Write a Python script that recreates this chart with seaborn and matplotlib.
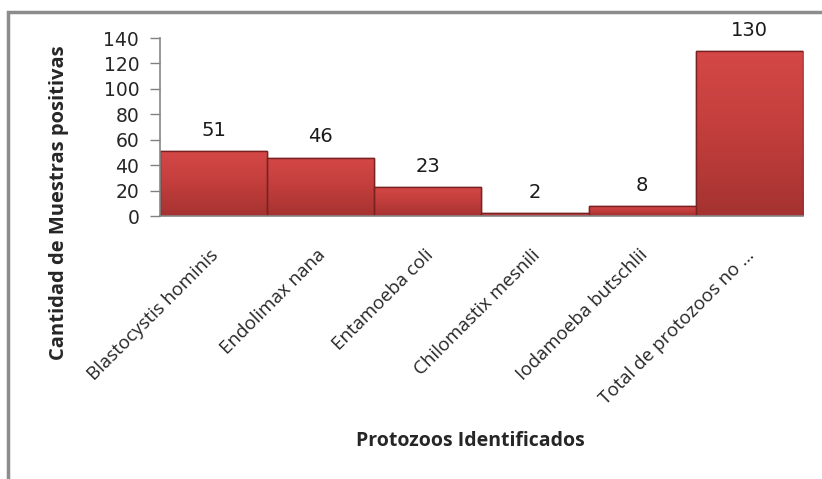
import matplotlib
matplotlib.use("Agg")
import matplotlib.pyplot as plt
import matplotlib.patches as mpatches
import matplotlib.transforms as mtransforms
from matplotlib.colors import LinearSegmentedColormap
import numpy as np
import pandas as pd
import seaborn as sns

categorias = ["Blastocystis hominis", "Endolimax nana", "Entamoeba coli",
              "Chilomastix mesnili", "Iodamoeba butschlii", "Total de protozoos no …"]
valores = [51, 46, 23, 2, 8, 130]
yticks = [0, 20, 40, 60, 80, 100, 120, 140]

df = pd.DataFrame({"Protozoo": categorias, "Cantidad": valores})

sns.set_theme(style="white")
plt.rcParams["font.family"] = ["Open Sans", "DejaVu Sans"]

fig = plt.figure(figsize=(8.22, 4.79), dpi=100)
ax = fig.add_axes([0.1946, 0.549, 0.7823, 0.3716])

sns.barplot(data=df, x="Protozoo", y="Cantidad", color="#C83E3D", width=1.0,
            edgecolor="#6E1C1C", linewidth=1.0, ax=ax, saturation=1)

# gradient shading on each bar
grad = np.linspace(0, 1, 100).reshape(-1, 1)
cmap = LinearSegmentedColormap.from_list("redgrad", ["#A53331", "#C23E3C", "#D44847"])
for p in ax.patches:
    x0, y0 = p.get_x(), p.get_y()
    w, h = p.get_width(), p.get_height()
    im = ax.imshow(grad, extent=[x0, x0 + w, y0, y0 + h], origin="lower",
                   cmap=cmap, aspect="auto", zorder=p.get_zorder() + 0.1)
    im.set_clip_path(p)
    edge = mpatches.Rectangle((x0, y0), w, h, fill=False, edgecolor="#7A2222",
                              linewidth=1.0, zorder=p.get_zorder() + 0.2)
    ax.add_patch(edge)

ax.set_xlim(-0.5, len(categorias) - 0.5)
ax.set_ylim(0, 140)
ax.set_yticks(yticks)
ax.set_yticklabels([str(t) for t in yticks], fontsize=13.5, family="DejaVu Sans")
ax.tick_params(axis="y", length=7, width=1, color="#808080", pad=8, left=True)
ax.tick_params(axis="x", length=0, pad=10)
ax.set_xticks(range(len(categorias)))
ax.set_xticklabels(categorias, rotation=45, ha="right", rotation_mode="anchor",
                   fontsize=13.5)
offset = mtransforms.ScaledTranslation(-4 / 100, -16 / 100, fig.dpi_scale_trans)
for lbl in ax.get_xticklabels():
    lbl.set_transform(lbl.get_transform() + offset)

for s in ["top", "right"]:
    ax.spines[s].set_visible(False)
for s in ["left", "bottom"]:
    ax.spines[s].set_color("#868686")
    ax.spines[s].set_linewidth(1.2)

ax.bar_label(ax.containers[0], labels=[str(v) for v in valores], padding=8,
             fontsize=14, family="DejaVu Sans", color="#1a1a1a")

ax.set_ylabel("Cantidad de Muestras positivas", fontsize=14.5, fontweight="bold")
ax.set_xlabel("")
ax.yaxis.set_label_coords(-0.142, 0.073)
fig.text(0.572, 0.079, "Protozoos Identificados", fontsize=14, fontweight="bold",
         ha="center", va="center")

# outer chart border
border = mpatches.Rectangle((8 / 822, -0.05), 1.0, 1 - 12 / 479 + 0.05,
                            transform=fig.transFigure, fill=False,
                            edgecolor="#8C8C8C", linewidth=2.5, clip_on=False)
fig.add_artist(border)

fig.savefig("out.png", dpi=100)
